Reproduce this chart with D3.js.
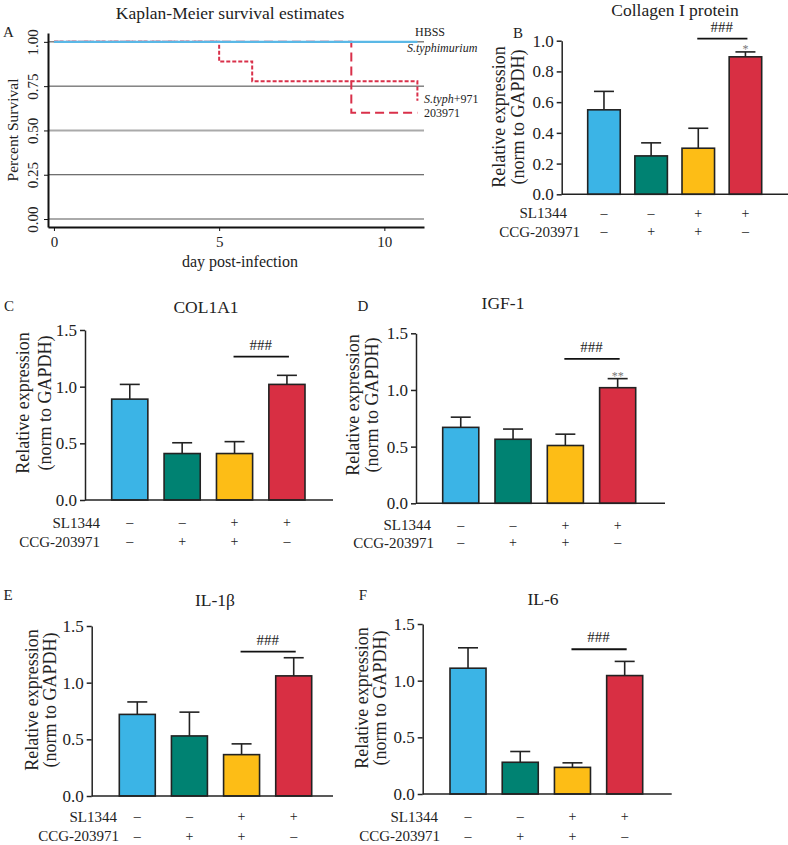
<!DOCTYPE html>
<html>
<head>
<meta charset="utf-8">
<script src="https://cdn.jsdelivr.net/npm/d3@7/dist/d3.min.js"></script>
<style>
  body { margin: 0; background: #fff; }
  svg text { font-family: "Liberation Serif", serif; fill: #222; }
</style>
</head>
<body>
<div id="container"></div>
<script>
// ---- data ----
const groups  = ["HBSS", "CCG-203971", "SL1344+CCG", "SL1344"];
const sl1344  = ["–", "–", "+", "+"];
const ccg     = ["–", "+", "+", "–"];

const collagenMean = [0.55, 0.25, 0.30, 0.895];
const collagenErr  = [0.12, 0.085, 0.13, 0.032];
const col1a1Mean   = [0.89, 0.41, 0.41, 1.02];
const col1a1Err    = [0.13, 0.095, 0.105, 0.08];
const igf1Mean     = [0.67, 0.565, 0.51, 1.02];
const igf1Err      = [0.09, 0.09, 0.10, 0.08];
const il1bMean     = [0.72, 0.53, 0.365, 1.06];
const il1bErr      = [0.11, 0.21, 0.095, 0.16];
const il6Mean      = [1.11, 0.28, 0.235, 1.045];
const il6Err       = [0.18, 0.095, 0.04, 0.125];

// Kaplan-Meier
const hbssDays  = [0, 11];
const hbssSurv  = [1, 1];
const typhDays  = [0, 5, 6, 11];
const typhSurv  = [1, 0.889, 0.778, 0.667];
const typh971Days = [0, 9, 11];
const typh971Surv = [1, 0.6, 0.6];
const kmTicksY  = [0, 0.25, 0.5, 0.75, 1];
const kmTicksX  = [0, 5, 10];

const barColors = ["#3bb4e6", "#008272", "#fdbd16", "#d82f43"];
const ink = "#222";

const svg = d3.select("#container").append("svg")
  .attr("width", 788).attr("height", 845);

// ---------- panel A: Kaplan-Meier ----------
{
  const x = d3.scaleLinear().domain([-0.18, 11.2]).range([48, 424]);
  const y = d3.scaleLinear().domain([-0.045, 1.05]).range([227, 33]);
  const g = svg.append("g");

  // horizontal reference lines
  g.selectAll("line.grid").data(kmTicksY).join("line")
    .attr("x1", x.range()[0]).attr("x2", x.range()[1])
    .attr("y1", d => y(d)).attr("y2", d => y(d))
    .attr("stroke", d => (d === 0.5 || d === 0) ? "#aaa" : "#444")
    .attr("stroke-width", d => (d === 0.5 || d === 0) ? 2 : 1);

  const line = d3.line().x(d => x(d[0])).y(d => y(d[1])).curve(d3.curveStepAfter);
  g.append("path").datum(d3.zip(typh971Days, typh971Surv))
    .attr("d", line).attr("fill", "none")
    .attr("stroke", "#d9304a").attr("stroke-width", 2).attr("stroke-dasharray", "9,5");
  g.append("path").datum(d3.zip(typhDays, typhSurv))
    .attr("d", line).attr("fill", "none")
    .attr("stroke", "#d9304a").attr("stroke-width", 2).attr("stroke-dasharray", "4,2");
  g.append("path").datum(d3.zip(hbssDays, hbssSurv))
    .attr("d", line).attr("fill", "none")
    .attr("stroke", "#5ab8e6").attr("stroke-width", 2.2);

  const ya = g.append("g").attr("transform", `translate(${x.range()[0]},0)`)
    .call(d3.axisLeft(y).tickValues(kmTicksY).tickFormat(d3.format(".2f")).tickSize(4).tickSizeOuter(0));
  ya.select(".domain").attr("stroke", "#111").attr("stroke-width", 2);
  ya.selectAll(".tick line").attr("stroke", "#111");
  ya.selectAll("text")
    .attr("transform", "rotate(-90)")
    .attr("x", 0).attr("y", -15).attr("dy", "0.32em")
    .attr("text-anchor", "middle")
    .style("font-size", "15px").style("font-family", "Liberation Serif").attr("fill", ink);

  const xa = g.append("g").attr("transform", `translate(0,${y.range()[0]})`)
    .call(d3.axisBottom(x).tickValues(kmTicksX).tickSize(4).tickSizeOuter(0));
  xa.select(".domain").attr("stroke", "#111").attr("stroke-width", 2);
  xa.selectAll(".tick line").attr("stroke", "#111");
  xa.selectAll("text").style("font-size", "15px").style("font-family", "Liberation Serif")
    .attr("fill", ink).attr("dy", "0.85em");

  g.append("text").attr("x", 230).attr("y", 19).attr("text-anchor", "middle")
    .style("font-size", "17.5px").text("Kaplan-Meier survival estimates");
  g.append("text").attr("x", 3).attr("y", 37).style("font-size", "15px").text("A");
  g.append("text").attr("transform", "translate(12,130) rotate(-90)")
    .attr("text-anchor", "middle").attr("dominant-baseline", "central")
    .style("font-size", "15.5px").text("Percent Survival");
  g.append("text").attr("x", 240).attr("y", 267).attr("text-anchor", "middle")
    .style("font-size", "16px").text("day post-infection");

  // series labels
  g.append("text").attr("x", 415).attr("y", 36).style("font-size", "12px").text("HBSS");
  g.append("text").attr("x", 407).attr("y", 52).style("font-size", "12px")
    .style("font-style", "italic").text("S.typhimurium");
  const t971 = g.append("text").attr("x", 424).attr("y", 103).style("font-size", "12px");
  t971.append("tspan").style("font-style", "italic").text("S.typh");
  t971.append("tspan").text("+971");
  g.append("text").attr("x", 424).attr("y", 117).style("font-size", "12px").text("203971");
}

// ---------- bar panels ----------
function barPanel(p) {
  const g = svg.append("g");
  const x = d3.scaleBand().domain(groups).range(p.band).paddingInner(0.31).paddingOuter(0);
  const y = d3.scaleLinear().domain([0, p.ymax]).range([p.y0, p.yTop]);
  const rows = groups.map((k, i) => ({ k, i, m: p.mean[i], e: p.err[i] }));
  const cx = k => x(k) + x.bandwidth() / 2;

  // error bars (upper only)
  const cap = 10;
  g.selectAll("line.err").data(rows).join("line")
    .attr("x1", d => cx(d.k)).attr("x2", d => cx(d.k))
    .attr("y1", d => y(d.m)).attr("y2", d => y(d.m + d.e))
    .attr("stroke", ink).attr("stroke-width", 1.6);
  g.selectAll("line.cap").data(rows).join("line")
    .attr("x1", d => cx(d.k) - cap).attr("x2", d => cx(d.k) + cap)
    .attr("y1", d => y(d.m + d.e)).attr("y2", d => y(d.m + d.e))
    .attr("stroke", ink).attr("stroke-width", 1.6);

  g.selectAll("rect.bar").data(rows).join("rect")
    .attr("x", d => x(d.k)).attr("width", x.bandwidth())
    .attr("y", d => y(d.m)).attr("height", d => y(0) - y(d.m))
    .attr("fill", d => barColors[d.i]).attr("stroke", ink).attr("stroke-width", 1.6);

  // axes
  const ya = g.append("g").attr("transform", `translate(${p.axisX},0)`)
    .call(d3.axisLeft(y).tickValues(p.ticks).tickFormat(d3.format(".1f")).tickSize(5).tickSizeOuter(0));
  ya.select(".domain").attr("stroke", ink).attr("stroke-width", 1.5);
  ya.selectAll(".tick line").attr("stroke", ink).attr("stroke-width", 1.5);
  ya.selectAll("text").style("font-size", "17px").style("font-family", "Liberation Serif").attr("fill", ink);

  g.append("line").attr("x1", p.axisX).attr("x2", p.axisRight)
    .attr("y1", y(0)).attr("y2", y(0)).attr("stroke", ink).attr("stroke-width", 1.5);

  // significance
  const c3 = cx(groups[2]), c4 = cx(groups[3]);
  g.append("line").attr("x1", c3 - 1).attr("x2", c4 + 2)
    .attr("y1", y(p.sig)).attr("y2", y(p.sig)).attr("stroke", "#111").attr("stroke-width", 1.8);
  g.append("text").attr("x", (c3 + c4) / 2).attr("y", y(p.sig) - 7).attr("text-anchor", "middle")
    .style("font-size", "15px").text("###");
  if (p.star) {
    g.append("text").attr("x", c4).attr("y", y(p.mean[3] + p.err[3]) + 1).attr("text-anchor", "middle")
      .style("font-size", "12px").style("fill", "#777").text(p.star);
  }

  // treatment table
  [[sl1344, "SL1344", p.rowY[0], p.rowRight[0]], [ccg, "CCG-203971", p.rowY[1], p.rowRight[1]]]
    .forEach(([signs, label, ry, rx]) => {
      g.append("text").attr("x", rx).attr("y", ry).attr("text-anchor", "end")
        .attr("dominant-baseline", "central").style("font-size", "15px").text(label);
      g.selectAll(null).data(signs).join("text")
        .attr("x", (d, i) => cx(groups[i])).attr("y", ry)
        .attr("text-anchor", "middle").attr("dominant-baseline", "central")
        .style("font-size", "14px").text(d => d);
    });

  // titles and labels
  g.append("text").attr("x", p.title[1]).attr("y", p.title[2]).attr("text-anchor", "middle")
    .attr("dominant-baseline", "central").style("font-size", "17.5px").text(p.title[0]);
  g.append("text").attr("x", p.letter[1]).attr("y", p.letter[2]).attr("text-anchor", "middle")
    .attr("dominant-baseline", "central").style("font-size", "15px").text(p.letter[0]);
  [["Relative expression", p.ylab[0]], ["(norm to GAPDH)", p.ylab[1]]].forEach(([t, lx]) => {
    g.append("text").attr("transform", `translate(${lx},${p.ylab[2]}) rotate(-90)`)
      .attr("text-anchor", "middle").attr("dominant-baseline", "central")
      .style("font-size", "18px").text(t);
  });
}

barPanel({ mean: collagenMean, err: collagenErr, ymax: 1, ticks: [0, 0.2, 0.4, 0.6, 0.8, 1],
  axisX: 561.7, axisRight: 788, band: [587.7, 761.7], y0: 194.3, yTop: 40.7,
  sig: 1.013, star: "*", rowRight: [567, 580], rowY: [213, 231.5],
  title: ["Collagen I protein", 675, 10], letter: ["B", 518, 33], ylab: [499, 518, 117] });

barPanel({ mean: col1a1Mean, err: col1a1Err, ymax: 1.5, ticks: [0, 0.5, 1, 1.5],
  axisX: 85, axisRight: 333, band: [111.7, 305], y0: 500, yTop: 330,
  sig: 1.265, rowRight: [100, 100], rowY: [522.7, 541.7],
  title: ["COL1A1", 206, 306.7], letter: ["C", 9, 306], ylab: [23, 45, 403] });

barPanel({ mean: igf1Mean, err: igf1Err, ymax: 1.5, ticks: [0, 0.5, 1, 1.5],
  axisX: 416, axisRight: 665, band: [442.7, 635.7], y0: 503.3, yTop: 333.3,
  sig: 1.274, star: "**", rowRight: [431, 434], rowY: [525, 542.7],
  title: ["IGF-1", 503, 302.7], letter: ["D", 363, 306], ylab: [353.3, 371.7, 405] });

barPanel({ mean: il1bMean, err: il1bErr, ymax: 1.5, ticks: [0, 0.5, 1, 1.5],
  axisX: 91.7, axisRight: 333, band: [119.3, 311.7], y0: 796, yTop: 626,
  sig: 1.274, rowRight: [117, 119], rowY: [816.7, 836],
  title: ["IL-1β", 215, 600], letter: ["E", 8, 595], ylab: [31.7, 50, 700] });

barPanel({ mean: il6Mean, err: il6Err, ymax: 1.5, ticks: [0, 0.5, 1, 1.5],
  axisX: 422.7, axisRight: 671.7, band: [450, 642.7], y0: 794, yTop: 624,
  sig: 1.277, rowRight: [438, 440], rowY: [816.7, 836],
  title: ["IL-6", 543, 599.3], letter: ["F", 363, 595], ylab: [361.7, 380, 698] });
</script>
</body>
</html>
